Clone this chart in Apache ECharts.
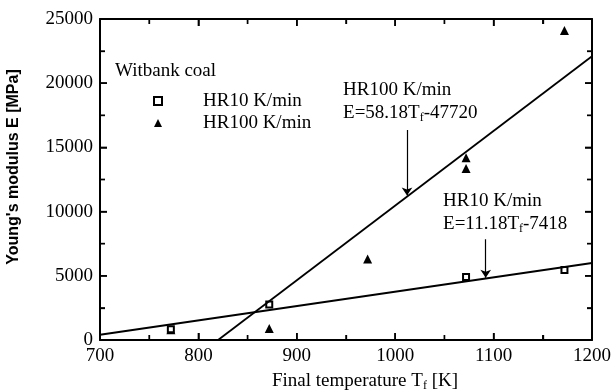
<!DOCTYPE html>
<html>
<head>
<meta charset="utf-8">
<script src="https://cdn.jsdelivr.net/npm/echarts@6/dist/echarts.min.js"></script>
<style>html,body{margin:0;padding:0;background:#fff}#c{width:613px;height:392px}</style>
</head>
<body>
<div id="c"></div>
<script>
// ---- data ----
const xTicks = [700, 800, 900, 1000, 1100, 1200];
const xMinorTicks = [750, 850, 950, 1050, 1150];
const yTicks = [0, 5000, 10000, 15000, 20000, 25000];
const yMinorTicks = [2500, 7500, 12500, 17500, 22500];

const hr10T = [772, 872, 1072, 1172];
const hr10E = [830, 2760, 4900, 5460];

const hr100T = [772, 872, 972, 1072, 1072, 1172];
const hr100E = [800, 900, 6300, 14200, 13350, 24100];

// fitted lines (endpoints of E=58.18Tf-47720 and E=11.18Tf-7418 inside the frame)
const hr100FitT = [820, 1200];
const hr100FitE = [0, 22096];
const hr10FitT = [700, 1200];
const hr10FitE = [408, 5998];

// annotation arrows
const hr100ArrowT = [1012, 1012];
const hr100ArrowE = [16350, 11250];
const hr10ArrowT = [1092, 1092];
const hr10ArrowE = [7850, 4850];

const serif = "'Liberation Serif', 'Times New Roman', serif";
const FS = 19;

function pairs(a, b) { return a.map((v, i) => [v, b[i]]); }

const chart = echarts.init(document.getElementById('c'), null, {renderer: 'canvas'});

function axisCommon(showLabel, pos) {
  return {
    type: 'value',
    position: pos,
    axisLine: {show: true, onZero: false, lineStyle: {color: '#000', width: 2}},
    axisTick: {show: true, inside: true, length: 7, lineStyle: {color: '#000', width: 1.5}},
    minorTick: {show: true, splitNumber: 2, length: 5, lineStyle: {color: '#000', width: 1.3}},
    splitLine: {show: false},
    axisLabel: {show: showLabel, color: '#000', fontFamily: serif, fontSize: FS, margin: 7,
      formatter: v => String(v)},
  };
}

const xMin = xTicks[0], xMax = xTicks[xTicks.length - 1];
const yMin = yTicks[0], yMax = yTicks[yTicks.length - 1];

const baseGraphic = [
  {id: 'title', type: 'text', left: 115, top: 62, style: {text: 'Witbank coal', font: FS + 'px ' + serif, fill: '#000'}},
  {id: 'ylab', type: 'text', x: 14, y: 167, rotation: Math.PI / 2, style: {text: "Young's modulus E [MPa]", font: 'bold 16px "Liberation Sans", Arial, sans-serif', fill: '#000', align: 'center', verticalAlign: 'middle'}},
  {id: 'xlab', type: 'text', x: 365, y: 381, style: {
    text: '{n|Final temperature T}{s|f}{n| [K]}', align: 'center', verticalAlign: 'middle',
    rich: {n: {fontFamily: serif, fontSize: FS, fill: '#000', color: '#000'}, s: {fontFamily: serif, fontSize: 12, color: '#000', padding: [10, 0, 0, 0]}}
  }},
];

const option = {
  animation: false,
  backgroundColor: '#fff',
  grid: {left: 100, right: 21, top: 19, bottom: 52, outerBoundsMode: 'none'},
  xAxis: [
    Object.assign(axisCommon(true, 'bottom'), {min: xMin, max: xMax, interval: 100}),
    Object.assign(axisCommon(false, 'top'), {min: xMin, max: xMax, interval: 100}),
  ],
  yAxis: [
    Object.assign(axisCommon(true, 'left'), {min: yMin, max: yMax, interval: 5000}),
    Object.assign(axisCommon(false, 'right'), {min: yMin, max: yMax, interval: 5000}),
  ],
  legend: {
    orient: 'vertical',
    left: 148, top: 85,
    itemWidth: 8, itemHeight: 8, itemGap: 0,
    data: ['HR10 K/min', 'HR100 K/min'],
    textStyle: {color: '#000', fontFamily: serif, fontSize: FS, lineHeight: 22, padding: [0, 0, 0, 36]},
    selectedMode: false,
  },
  graphic: baseGraphic,
  series: [
    {type: 'line', data: pairs(hr100FitT, hr100FitE), symbol: 'none', silent: true, lineStyle: {color: '#000', width: 1.8}},
    {type: 'line', data: pairs(hr10FitT, hr10FitE), symbol: 'none', silent: true, lineStyle: {color: '#000', width: 1.8}},
    {type: 'lines', coordinateSystem: 'cartesian2d', silent: true, symbol: ['none', 'arrow'], symbolSize: 8,
      lineStyle: {color: '#000', width: 1.2, opacity: 1},
      data: [{coords: pairs(hr100ArrowT, hr100ArrowE)}, {coords: pairs(hr10ArrowT, hr10ArrowE)}]},
    {name: 'HR100 K/min', type: 'scatter', data: pairs(hr100T, hr100E), symbol: 'triangle', symbolSize: 9,
      itemStyle: {color: '#000', opacity: 1}},
    {name: 'HR10 K/min', type: 'scatter', data: pairs(hr10T, hr10E), symbol: 'rect', symbolSize: 6,
      itemStyle: {color: '#fff', borderColor: '#000', borderWidth: 2, opacity: 1}},
    {type: 'scatter', silent: true, symbolSize: 0, itemStyle: {opacity: 1},
      data: [
        {value: [947, 18575], label: {formatter: '{n|HR100 K/min}\n{n|E=58.18T}{s|f}{n|-47720}'}},
        {value: [1048.6, 9945], label: {formatter: '{n|HR10 K/min}\n{n|E=11.18T}{s|f}{n|-7418}'}},
      ],
      label: {show: true, position: 'right', distance: 0, color: '#000', opacity: 1, lineHeight: 23,
        rich: {n: {fontFamily: serif, fontSize: FS, color: '#000', lineHeight: 23},
               s: {fontFamily: serif, fontSize: 12, color: '#000', lineHeight: 23, padding: [10, 0, 0, 0]}}}
    },
  ],
};
chart.setOption(option);

// tick marks on all four sides, placed through the chart's own scales
const finder = {xAxisIndex: 0, yAxisIndex: 0};
const tickGraphic = [];
function addTick(p, dx, dy) {
  tickGraphic.push({type: 'line', z: 100, silent: true,
    shape: {x1: p[0], y1: p[1], x2: p[0] + dx, y2: p[1] + dy},
    style: {stroke: '#000', lineWidth: 1.5}});
}
xTicks.forEach(v => { addTick(chart.convertToPixel(finder, [v, yMin]), 0, -7); addTick(chart.convertToPixel(finder, [v, yMax]), 0, 7); });
xMinorTicks.forEach(v => { addTick(chart.convertToPixel(finder, [v, yMin]), 0, -5); addTick(chart.convertToPixel(finder, [v, yMax]), 0, 5); });
yTicks.forEach(v => { addTick(chart.convertToPixel(finder, [xMin, v]), 7, 0); addTick(chart.convertToPixel(finder, [xMax, v]), -7, 0); });
yMinorTicks.forEach(v => { addTick(chart.convertToPixel(finder, [xMin, v]), 5, 0); addTick(chart.convertToPixel(finder, [xMax, v]), -5, 0); });
tickGraphic.forEach((g, i) => { g.id = 'tick' + i; });
chart.setOption({graphic: baseGraphic.concat(tickGraphic)});
</script>
</body>
</html>
